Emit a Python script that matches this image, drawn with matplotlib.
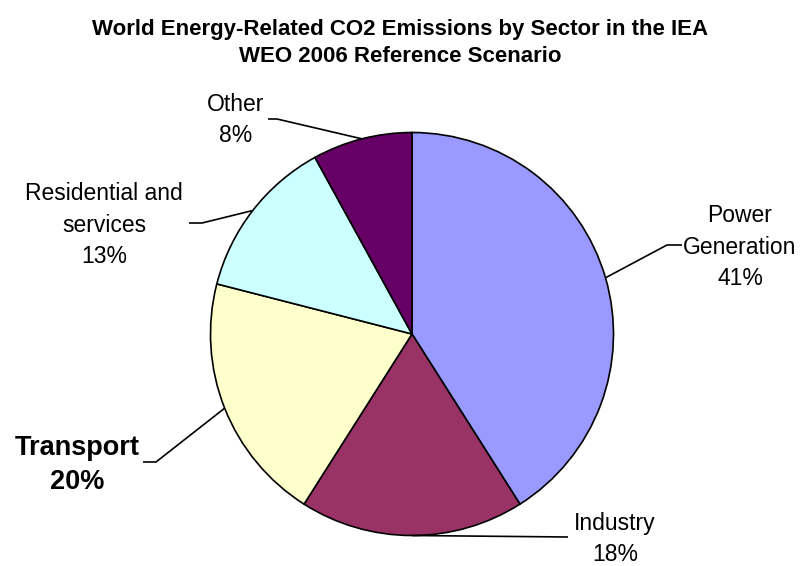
import numpy as np
import matplotlib.pyplot as plt

plt.rcParams['font.family'] = ['Liberation Sans', 'DejaVu Sans']

# Data
sectors = ['Power\nGeneration', 'Industry', 'Transport', 'Residential and\nservices', 'Other']
shares = [41, 18, 20, 13, 8]
colors = ['#9999FF', '#993366', '#FFFFCC', '#CCFFFF', '#660066']

# label placement (pixels) and leader line elbow / end
label_pos = [(740, 247), (615, 539), (77, 465), (104, 225), (236, 120)]
elbow = [(667, 245), (568, 537), (156, 462), (202, 223), (277, 119)]
line_end = [(682, 245), (568, 537), (143, 462), (189, 223), (268, 119)]

fig = plt.figure(figsize=(8, 5.66), dpi=100)
ax = fig.add_axes([0, 0, 1, 1])

cx, cy, r = 412, 334, 201.5
wedges, _ = ax.pie(shares, colors=colors, startangle=90, counterclock=False,
                   center=(cx, cy), radius=r, frame=True,
                   wedgeprops=dict(edgecolor='black', linewidth=1.2))
ax.set_xlim(0, 800)
ax.set_ylim(566, 0)
ax.set_aspect('equal')
ax.axis('off')

# y axis is inverted (pixel coords), so mirror the wedge angles
for w in wedges:
    t1, t2 = w.theta1, w.theta2
    w.set_theta1(-t2)
    w.set_theta2(-t1)

for i, (name, s) in enumerate(zip(sectors, shares)):
    w = wedges[i]
    mid = np.deg2rad((w.theta1 + w.theta2) / 2)
    px, py = cx + r * np.cos(mid), cy + r * np.sin(mid)
    ex, ey = elbow[i]
    lx, ly = line_end[i]
    ax.plot([px, ex, lx], [py, ey, ly], color='black', lw=1.2, solid_capstyle='butt')
    if name == 'Transport':
        ax.text(*label_pos[i], f'{name}\n{s}%', ha='center', va='center',
                fontsize=19.5, fontweight='bold', linespacing=1.37)
    else:
        ax.text(*label_pos[i], f'{name}\n{s}%', ha='center', va='center',
                fontsize=16.5, linespacing=1.47)

fig.text(0.5, 1 - 43 / 566, 'World Energy-Related CO2 Emissions by Sector in the IEA\nWEO 2006 Reference Scenario',
         ha='center', va='center', fontsize=16, fontweight='bold', linespacing=1.36)

fig.savefig('out.png', dpi=100)
